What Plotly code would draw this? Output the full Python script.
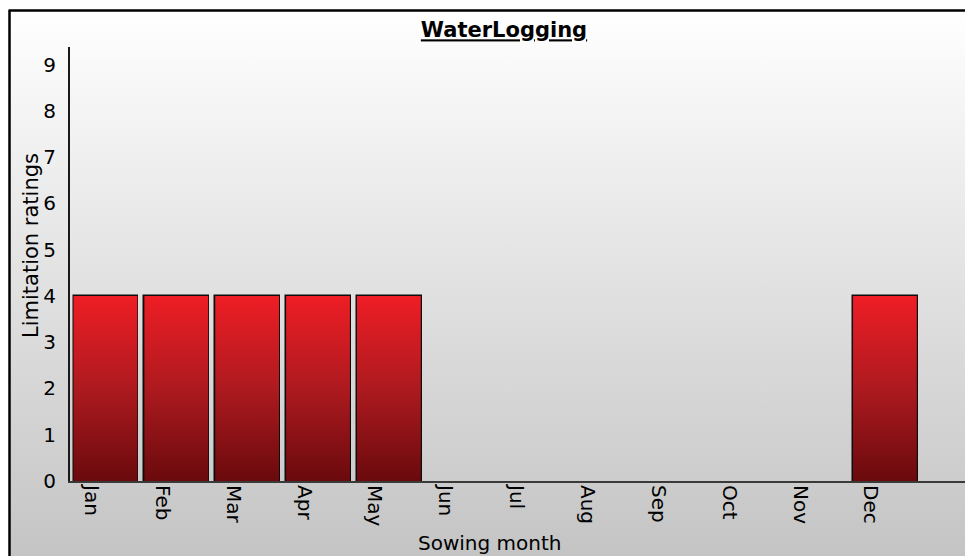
import plotly.graph_objects as go

# Chart data
months = ["Jan", "Feb", "Mar", "Apr", "May", "Jun",
          "Jul", "Aug", "Sep", "Oct", "Nov", "Dec"]
ratings = [4, 4, 4, 4, 4, 0, 0, 0, 0, 0, 0, 4]
y_ticks = [0, 1, 2, 3, 4, 5, 6, 7, 8, 9]

W, H = 965, 556
FONT = "DejaVu Sans"
BAR_W = 0.9

# plot area in pixels
PX_LEFT, PX_TOP, PX_BOTTOM = 70, 47, 481

fig = go.Figure()

# Panel background: vertical white-to-grey gradient inside the frame
fig.add_trace(go.Scatter(
    x=[9.5, W, W, 9.5, 9.5], y=[0, 0, H - 11, H - 11, 0],
    xaxis="x", yaxis="y", mode="lines", line=dict(width=0),
    fill="toself",
    fillgradient=dict(type="vertical",
                      colorscale=[[0, "#c4c4c4"], [1, "#ffffff"]]),
    hoverinfo="skip", showlegend=False,
))

# Bar fills with a dark-to-bright red gradient
idx = list(range(len(months)))
for i, v in zip(idx, ratings):
    if v <= 0:
        continue
    x0, x1 = i - BAR_W / 2, i + BAR_W / 2
    fig.add_trace(go.Scatter(
        x=[x0, x1, x1, x0, x0], y=[0, 0, v, v, 0],
        xaxis="x2", yaxis="y2", mode="lines", line=dict(width=0),
        fill="toself",
        fillgradient=dict(type="vertical",
                          colorscale=[[0, "#6a0a0d"], [0.5, "#ad1a1f"],
                                      [1, "#ef1d25"]]),
        hoverinfo="skip", showlegend=False,
    ))

# Bar outlines (no outline for empty months)
fig.add_trace(go.Bar(
    x=idx, y=ratings, width=BAR_W, xaxis="x2", yaxis="y2",
    marker=dict(color="rgba(0,0,0,0)",
                line=dict(color="#0d0d0d",
                          width=[2.5 if v > 0 else 0 for v in ratings])),
    showlegend=False,
))

fig.update_layout(
    autosize=False,
    width=W, height=H,
    margin=dict(l=0, r=0, t=0, b=0, pad=0),
    paper_bgcolor="white",
    plot_bgcolor="rgba(0,0,0,0)",
    font=dict(family=FONT, size=20, color="black"),
    title=dict(text="<b>WaterLogging</b>", x=504 / W, xanchor="center",
               y=1 - 30 / H, yanchor="middle",
               font=dict(family=FONT, size=21, color="black",
                         lineposition="under")),
    xaxis=dict(domain=[0, 1], range=[0, W], visible=False, fixedrange=True,
               automargin=False),
    yaxis=dict(domain=[0, 1], range=[0, H], visible=False, fixedrange=True,
               automargin=False),
    xaxis2=dict(
        domain=[PX_LEFT / W, 1], anchor="y2", automargin=False,
        range=[-0.5, 12.13],
        tickmode="array", tickvals=idx, ticktext=months,
        tickangle=90, ticks="", showgrid=False, zeroline=False,
        showline=True, linecolor="#3a3a3a", linewidth=2,
        ticklabelshift=-14, ticklabelstandoff=-2,
        tickfont=dict(family=FONT, size=20, color="black"),
    ),
    yaxis2=dict(
        domain=[(H - PX_BOTTOM) / H, (H - PX_TOP) / H], anchor="x2",
        automargin=False,
        range=[0, 9.38],
        tickmode="array", tickvals=y_ticks,
        ticks="", showgrid=False, zeroline=False,
        showline=True, linecolor="#1a1a1a", linewidth=2,
        ticklabelstandoff=8,
        tickfont=dict(family=FONT, size=20, color="black"),
    ),
    bargap=0,
    annotations=[
        dict(text="Limitation ratings", xref="paper", yref="paper",
             x=31 / W, y=1 - 246 / H, xanchor="center", yanchor="middle",
             textangle=-90, showarrow=False,
             font=dict(family=FONT, size=21, color="black")),
        dict(text="Sowing month", xref="paper", yref="paper",
             x=490 / W, y=1 - 543 / H, xanchor="center", yanchor="middle",
             showarrow=False,
             font=dict(family=FONT, size=20, color="black")),
    ],
    shapes=[
        # frame: left and top edges
        dict(type="line", xref="paper", yref="paper",
             x0=9.5 / W, x1=9.5 / W, y0=0, y1=1 - 10.5 / H,
             line=dict(color="black", width=2.5), layer="above"),
        dict(type="line", xref="paper", yref="paper",
             x0=8.5 / W, x1=1, y0=1 - 10.5 / H, y1=1 - 10.5 / H,
             line=dict(color="black", width=2.5), layer="above"),
    ],
)

fig.write_html("out.html")
